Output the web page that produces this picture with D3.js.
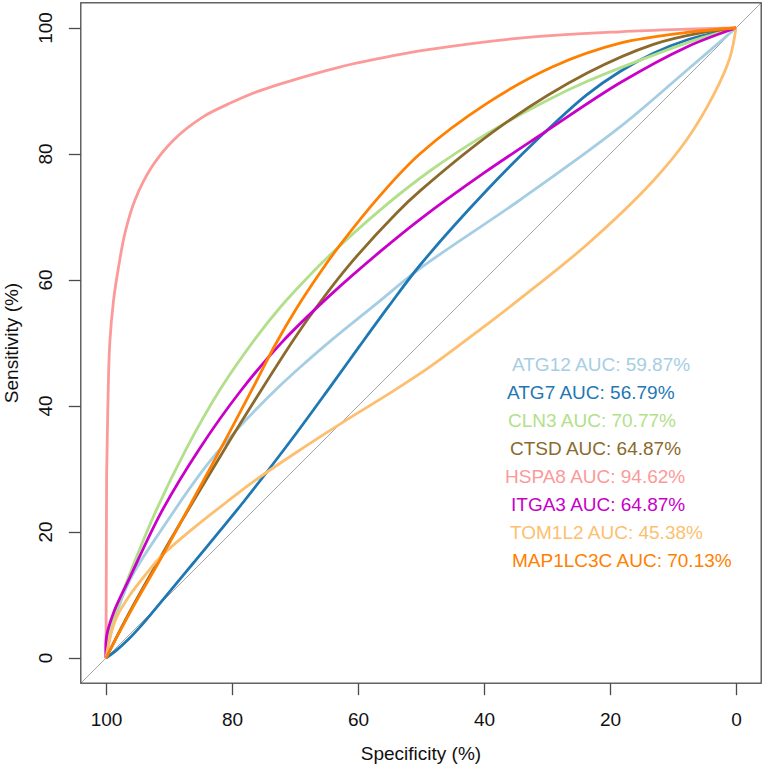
<!DOCTYPE html>
<html><head><meta charset="utf-8">
<script src="https://cdn.jsdelivr.net/npm/d3@7"></script>
<style>body{margin:0;background:#fff}svg{display:block;font-family:"Liberation Sans",Arial,Helvetica,sans-serif}</style>
</head><body><svg id="c" width="765" height="767"></svg>
<script>
const specTicks = [100, 80, 60, 40, 20, 0];
const sensTicks = [0, 20, 40, 60, 80, 100];
const genes = ["ATG12", "ATG7", "CLN3", "CTSD", "HSPA8", "ITGA3", "TOM1L2", "MAP1LC3C"];
const aucs = ["59.87%", "56.79%", "70.77%", "64.87%", "94.62%", "64.87%", "45.38%", "70.13%"];
const colors = ["#A6CEE3", "#1F78B4", "#B2DF8A", "#8B6A2C", "#FB9A99", "#C800C8", "#FDBF6F", "#FF7F00"];

const atg12Spec = [100, 98.8, 96.2, 90.9, 84.0, 78.7, 72.4, 68.0, 64.4, 57.0, 50.2, 34.3, 18.4, 7.8, 0];
const atg12Sens = [0, 5.5, 12.4, 20.8, 30.6, 36.8, 43.2, 47.2, 50.3, 56.3, 61.8, 72.7, 84.3, 93.3, 100];
const atg7Spec = [100, 98.6, 96.4, 94.1, 92.0, 86.2, 78.0, 70.3, 64.3, 59.9, 55.0, 50.2, 39.6, 30.6, 23.7, 18.4, 13.1, 7.8, 0];
const atg7Sens = [0, 1.0, 3.0, 5.5, 8.0, 15.0, 25.0, 35.0, 43.2, 49.3, 56.0, 62.3, 74.2, 83.2, 89.4, 93.1, 96.0, 98.1, 100];
const cln3Spec = [100, 99.5, 98.0, 96.2, 92.0, 87.2, 81.9, 76.3, 72.4, 68.0, 64.4, 56.5, 48.6, 39.6, 30.0, 23.7, 13.1, 5.2, 0];
const cln3Sens = [0, 4.0, 8.6, 13.4, 23.5, 33.3, 42.6, 50.7, 55.6, 60.4, 64.0, 71.1, 77.3, 83.2, 88.5, 91.5, 95.7, 98.5, 100];
const ctsdSpec = [100, 96.2, 90.9, 85.6, 80.3, 75.0, 70.3, 67.1, 61.8, 53.9, 50.2, 36.9, 23.7, 13.1, 5.2, 0];
const ctsdSens = [0, 7.4, 16.8, 25.8, 34.6, 43.1, 50.4, 55.0, 61.9, 70.6, 74.1, 84.7, 92.8, 97.4, 99.3, 100];
const hspa8Spec = [100, 99.95, 99.9, 99.7, 99.4, 98.8, 98.0, 97.0, 95.4, 92.7, 89.3, 84.6, 80.0, 76.0, 72.4, 62.9, 54.4, 48.6, 34.3, 18.4, 7.8, 0];
const hspa8Sens = [0, 15, 29, 40, 50, 56.8, 62.1, 67.4, 72.7, 78.0, 82.2, 85.9, 88.2, 89.9, 91.1, 93.8, 95.6, 96.6, 98.4, 99.4, 99.8, 100];
const itga3Spec = [100, 99.9, 98.8, 96.2, 91.2, 85.1, 78.7, 72.1, 64.4, 56.5, 50.2, 40.0, 30.6, 18.4, 7.8, 0];
const itga3Sens = [0, 3.5, 7.2, 12.8, 23.2, 33.3, 42.3, 50.1, 57.6, 64.5, 69.6, 77.0, 83.3, 91.3, 97.0, 100];
const tom1l2Spec = [100, 99.3, 98.3, 96.2, 93.5, 91.4, 86.0, 80.8, 76.6, 70.0, 61.8, 55.0, 48.6, 40.0, 34.3, 23.7, 13.1, 7.8, 3.6, 1.0, 0];
const tom1l2Sens = [0, 3.5, 6.5, 10.0, 13.5, 16.0, 20.7, 24.8, 28.0, 32.5, 37.8, 42.0, 46.2, 52.6, 57.0, 65.6, 75.8, 82.3, 89.3, 95.2, 100];
const map1lc3cSpec = [100, 96.2, 90.9, 85.6, 80.3, 76.1, 73.2, 69.7, 66.0, 62.9, 56.5, 50.2, 39.6, 29.0, 18.4, 7.8, 0];
const map1lc3cSens = [0, 7.2, 16.5, 26.2, 36.0, 44.0, 49.6, 55.6, 61.2, 65.5, 73.4, 80.0, 88.0, 93.9, 97.6, 99.3, 100];

const specs = [atg12Spec, atg7Spec, cln3Spec, ctsdSpec, hspa8Spec, itga3Spec, tom1l2Spec, map1lc3cSpec];
const senss = [atg12Sens, atg7Sens, cln3Sens, ctsdSens, hspa8Sens, itga3Sens, tom1l2Sens, map1lc3cSens];

// layout: left edge of each legend line (text is ragged in the original)
const legendX = [512, 507, 508, 510, 505, 511, 510, 512];

const svg = d3.select("#c");
const x = d3.scaleLinear().domain([100, 0]).range([106, 736]);
const y = d3.scaleLinear().domain([0, 100]).range([658, 28]);
const xb = d3.scaleLinear().domain([104, -4]).range([106 - 4*6.3, 736 + 4*6.3]);
const yb = d3.scaleLinear().domain([-4, 104]).range([658 + 4*6.3, 28 - 4*6.3]);
const L = xb(104), R = xb(-4), T = yb(104), B = yb(-4);

svg.append("clipPath").attr("id", "clip").append("rect")
  .attr("x", L).attr("y", T).attr("width", R - L).attr("height", B - T);

const plot = svg.append("g").attr("clip-path", "url(#clip)");
plot.append("line").attr("x1", xb(104)).attr("y1", yb(-4)).attr("x2", xb(-4)).attr("y2", yb(104))
  .attr("stroke", "#a6a6a6").attr("stroke-width", 1);

const line = d3.line().curve(d3.curveCatmullRom.alpha(0.5));
specs.forEach((sp, i) => {
  const pts = sp.map((s, j) => [x(s), y(senss[i][j])]);
  plot.append("path").attr("d", line(pts)).attr("fill", "none")
    .attr("stroke", colors[i]).attr("stroke-width", 2.8).attr("stroke-linejoin", "round");
});

svg.append("rect").attr("x", L).attr("y", T).attr("width", R - L).attr("height", B - T)
  .attr("fill", "none").attr("stroke", "#4a4a4a").attr("stroke-width", 1.3);

const xAxis = svg.append("g").attr("transform", `translate(0,${B})`)
  .call(d3.axisBottom(x).tickValues(specTicks).tickSize(12).tickPadding(17).tickFormat(d3.format("d")));
xAxis.select(".domain").remove();
xAxis.selectAll("line").attr("stroke", "#4a4a4a").attr("stroke-width", 1.3);
xAxis.selectAll("text").attr("font-size", 19).attr("fill", "#111").attr("font-family", "Liberation Sans, Arial, sans-serif");

const yAxis = svg.append("g").attr("transform", `translate(${L},0)`)
  .call(d3.axisLeft(y).tickValues(sensTicks).tickSize(12).tickFormat(""));
yAxis.select(".domain").remove();
yAxis.selectAll("line").attr("stroke", "#4a4a4a").attr("stroke-width", 1.3);
svg.append("g").selectAll("text").data(sensTicks).join("text")
  .attr("transform", d => `translate(52,${y(d)}) rotate(-90)`)
  .attr("text-anchor", "middle").attr("font-size", 19).attr("fill", "#111").text(d => d);

svg.append("text").attr("x", (L + R) / 2).attr("y", 760).attr("text-anchor", "middle")
  .attr("font-size", 19).attr("fill", "#111").text("Specificity (%)");
svg.append("text").attr("transform", `translate(18,${(T + B) / 2}) rotate(-90)`).attr("text-anchor", "middle")
  .attr("font-size", 19).attr("fill", "#111").text("Sensitivity (%)");

svg.append("g").selectAll("text").data(genes).join("text")
  .attr("x", (d, i) => legendX[i]).attr("y", (d, i) => 371 + i * 28)
  .attr("font-size", 19).attr("fill", (d, i) => colors[i])
  .text((d, i) => `${d} AUC: ${aucs[i]}`);
</script></body></html>
